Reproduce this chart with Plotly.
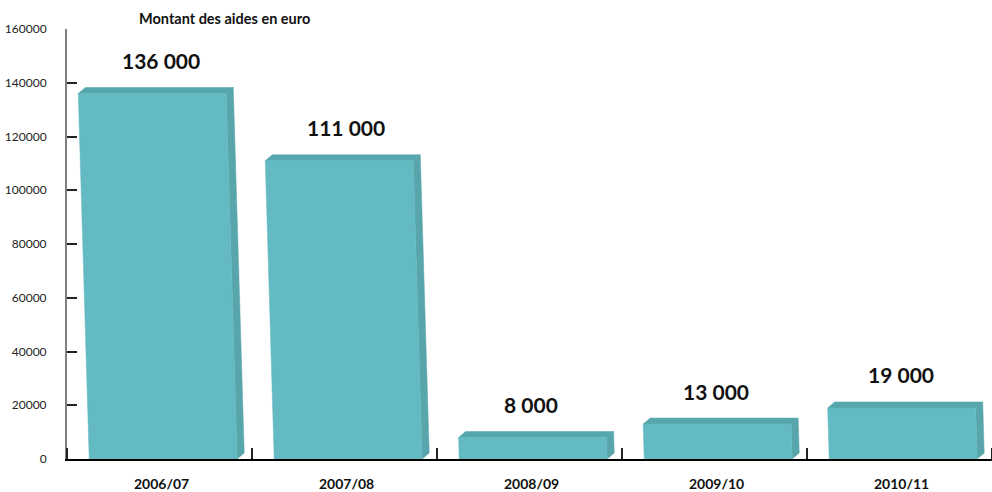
import plotly.graph_objects as go

categories = ["2006/07", "2007/08", "2008/09", "2009/10", "2010/11"]
values = [136000, 111000, 8000, 13000, 19000]
value_labels = ["136 000", "111 000", "8 000", "13 000", "19 000"]
y_ticks = [0, 20000, 40000, 60000, 80000, 100000, 120000, 140000, 160000]

FRONT = "rgb(99,186,194)"
TOP = "rgb(86,167,173)"
SIDE = "rgb(88,165,171)"

# geometry (in axis units)
X0, X1 = -0.38, 0.42        # front face extent relative to category centre
DEPTH_X = 0.038             # depth offset of the 3D faces in x
DEPTH_Y = 2233              # depth offset in y (value units)
SKEW = 0.03 * (430 / 160000) / 185  # leftward skew of the top per value unit

def poly(pts):
    xs = [p[0] for p in pts] + [pts[0][0], None]
    ys = [p[1] for p in pts] + [pts[0][1], None]
    return xs, ys

fx, fy, tx, ty, sx, sy = [], [], [], [], [], []
for i, v in enumerate(values):
    s = v * SKEW
    x0, x1 = i + X0, i + X1
    a, b = poly([(x0, 0), (x1, 0), (x1 - s, v), (x0 - s, v)])
    fx += a; fy += b
    a, b = poly([(x0 - s, v), (x1 - s, v), (x1 - s + DEPTH_X, v + DEPTH_Y), (x0 - s + DEPTH_X, v + DEPTH_Y)])
    tx += a; ty += b
    a, b = poly([(x1, 0), (x1 - s, v), (x1 - s + DEPTH_X, v + DEPTH_Y), (x1 + DEPTH_X, DEPTH_Y)])
    sx += a; sy += b

fig = go.Figure()
fig.add_trace(go.Scatter(x=sx, y=sy, fill="toself", fillcolor=SIDE, mode="lines",
                         line=dict(color=SIDE, width=0.5), hoverinfo="skip", showlegend=False))
fig.add_trace(go.Scatter(x=tx, y=ty, fill="toself", fillcolor=TOP, mode="lines",
                         line=dict(color=TOP, width=0.5), hoverinfo="skip", showlegend=False))
fig.add_trace(go.Scatter(x=fx, y=fy, fill="toself", fillcolor=FRONT, mode="lines",
                         line=dict(color=FRONT, width=0.5), hoverinfo="skip", showlegend=False))

FONT = "Lato, 'Open Sans', sans-serif"

for i, (v, lab) in enumerate(zip(values, value_labels)):
    fig.add_annotation(x=i + 0.01, y=v, text="<b>%s</b>" % lab, showarrow=False,
                       yshift=33, yanchor="middle", xanchor="center",
                       font=dict(family=FONT, size=21, color="#111"))
for i, c in enumerate(categories):
    fig.add_annotation(x=i + 0.01, y=0, text="<b>%s</b>" % c, showarrow=False,
                       yshift=-24, yanchor="middle", xanchor="center",
                       font=dict(family=FONT, size=14, color="#111"))

fig.add_annotation(xref="paper", yref="paper", x=(137 - 67) / 925, y=(459 - 19) / 430,
                   xanchor="left", yanchor="middle", showarrow=False,
                   text="<b>Montant des aides en euro</b>",
                   font=dict(family=FONT, size=14.5, color="#111"))

fig.update_layout(
    width=992, height=492,
    margin=dict(l=67, r=0, t=29, b=33),
    paper_bgcolor="white", plot_bgcolor="white",
    xaxis=dict(range=[-0.5, 4.5], showgrid=False, zeroline=False,
               showline=True, linecolor="black", linewidth=2,
               tickvals=list(range(len(categories))), ticktext=[""] * len(categories),
               ticks="",
               minor=dict(tickvals=[k - 0.5 for k in range(len(categories) + 1)],
                          ticks="inside", ticklen=11, tickcolor="#222", tickwidth=1.5,
                          showgrid=False),
               fixedrange=True),
    yaxis=dict(range=[0, 160000], tickvals=y_ticks, ticktext=[str(t) for t in y_ticks],
               showgrid=False, zeroline=False,
               showline=True, linecolor="#808080", linewidth=2,
               ticks="inside", ticklen=10, tickcolor="#222", tickwidth=1.5,
               ticklabelstandoff=16,
               tickfont=dict(family=FONT, size=12, color="#222"),
               fixedrange=True),
)

fig.write_html("out.html", config={"displayModeBar": False},
               post_script="document.body.style.margin='0';document.body.style.overflow='hidden';")
